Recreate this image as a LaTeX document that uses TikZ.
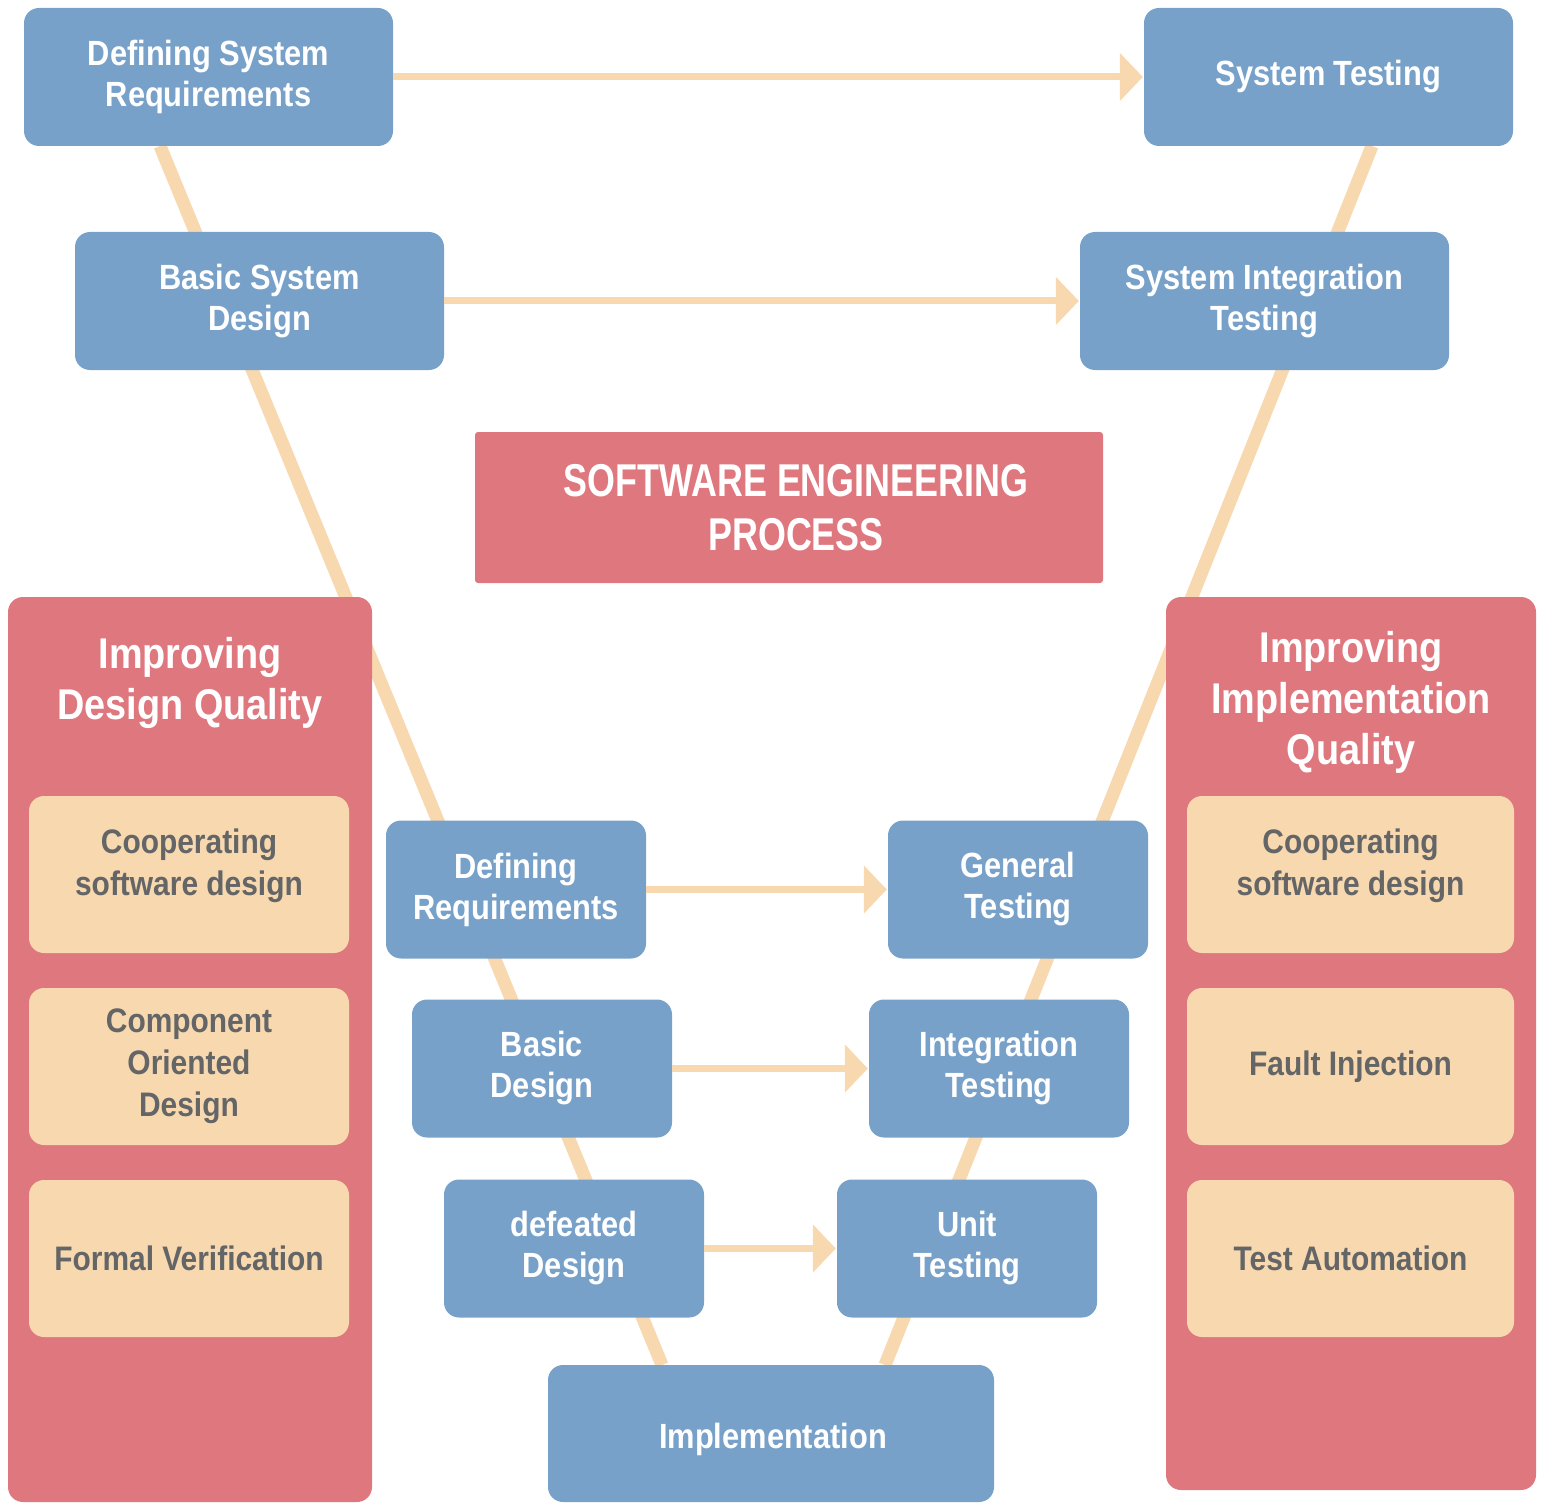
\documentclass[tikz,border=0pt]{standalone}
\usepackage{fontspec}
\setmainfont{Liberation Sans}[FakeStretch=0.88]
\newfontfamily\titlefont{Liberation Sans}[FakeStretch=0.78]
\usetikzlibrary{arrows.meta}
\definecolor{vblue}{HTML}{78A1C9}
\definecolor{vred}{HTML}{DF777E}
\definecolor{vorange}{HTML}{F8D8AF}
\definecolor{vgray}{HTML}{636566}
\begin{document}
\begin{tikzpicture}[x=1pt,y=-1pt,
  bluebox/.style={rectangle, rounded corners=15pt, fill=vblue, text=white,
    font=\fontsize{35}{41}\selectfont\bfseries, align=center,
    minimum height=138pt, inner sep=0pt},
  widebox/.style={bluebox, minimum width=369pt},
  smallbox/.style={bluebox, minimum width=260pt},
  panel/.style={rectangle, rounded corners=15pt, fill=vred, inner sep=0pt},
  paneltitle/.style={text=white, font=\fontsize{43}{51}\selectfont\bfseries, align=center, inner sep=0pt},
  obox/.style={rectangle, rounded corners=15pt, fill=vorange, text=vgray,
    font=\fontsize{34}{42}\selectfont\bfseries, align=center, minimum height=157pt, inner sep=0pt},
  titlebox/.style={rectangle, rounded corners=3pt, fill=vred, inner sep=0pt,
    minimum width=628pt, minimum height=151pt},
  titletext/.style={text=white, font=\titlefont\fontsize{46}{54}\selectfont\bfseries,
    align=center, inner sep=0pt},
  leg/.style={draw=vorange, line width=13pt},
  harrow/.style={draw=vorange, line width=7pt, -{Triangle[length=23pt,width=47pt]}, shorten >=1pt}
]
\useasboundingbox (0,0) rectangle (1542,1506);

% V legs (behind everything)
\coordinate (Ltop) at (160,146);
\coordinate (Lbot) at (662,1365);
\coordinate (Rtop) at (1372,146);
\coordinate (Rbot) at (885,1365);
\draw[leg] (Ltop) -- (Lbot);
\draw[leg] (Rtop) -- (Rbot);

% side panels
\node[panel, minimum width=364pt, minimum height=905pt] (LP) at (190,1049.5) {};
\node[panel, minimum width=370pt, minimum height=893pt] (RP) at (1351,1043.5) {};
\node[paneltitle] (LPT) at (190,683) {Improving\\Design Quality};
\node[paneltitle] (RPT) at (1351,702) {Improving\\Implementation\\Quality};

\node[obox, minimum width=320pt] (L1) at (189,874.5) {};
\node[obox, minimum width=320pt] (L2) at (189,1066.5) {Component\\Oriented\\Design};
\node[obox, minimum width=320pt] (L3) at (189,1258.5) {Formal Verification};
\node[obox, minimum width=327pt] (R1) at (1350.5,874.5) {};
\node[obox, minimum width=327pt] (R2) at (1350.5,1066.5) {Fault Injection};
\node[obox, minimum width=327pt] (R3) at (1350.5,1258.5) {Test Automation};
\node[obox, fill=none, minimum height=0pt] (L1t) at (189,866) {Cooperating\\software design};
\node[obox, fill=none, minimum height=0pt] (R1t) at (1350.5,866) {Cooperating\\software design};

% title
\node[titlebox] (T) at (789,507.5) {};
\node[titletext] (Tt) at (796,507.5) {SOFTWARE ENGINEERING\\PROCESS};

% process boxes
\node[widebox] (DSR) at (208.5,77) {Defining System\\Requirements};
\node[widebox] (ST) at (1328.5,77) {System Testing};
\node[widebox] (BSD) at (259.5,301) {Basic System\\Design};
\node[widebox] (SIT) at (1264.5,301) {System Integration\\Testing};
\node[smallbox] (DR) at (516,889.5) {Defining\\Requirements};
\node[smallbox] (GT) at (1018,889.5) {General\\Testing};
\node[smallbox] (BD) at (542,1068.5) {Basic\\Design};
\node[smallbox] (IT) at (999,1068.5) {Integration\\Testing};
\node[smallbox] (dD) at (574,1248.5) {defeated\\Design};
\node[smallbox] (UT) at (967,1248.5) {Unit\\Testing};
\node[bluebox, minimum width=446pt, minimum height=137pt] (IM) at (771,1433.5) {};
\node[bluebox, fill=none, minimum height=0pt] (IMt) at (773,1439) {Implementation};

% horizontal arrows
\draw[harrow] (DSR.east) -- (ST.west);
\draw[harrow] (BSD.east) -- (SIT.west);
\draw[harrow] (DR.east) -- (GT.west);
\draw[harrow] (BD.east) -- (IT.west);
\draw[harrow] (dD.east) -- (UT.west);
\end{tikzpicture}
\end{document}
